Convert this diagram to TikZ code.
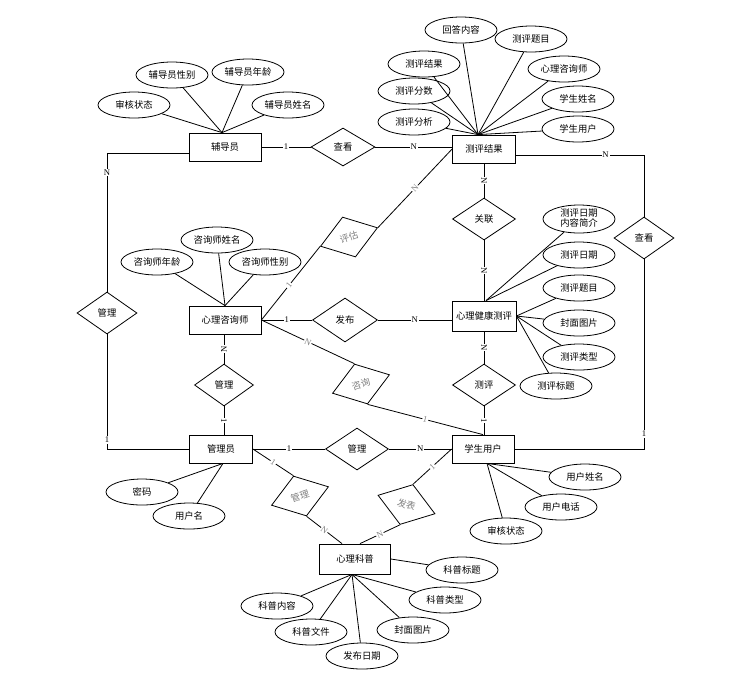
\documentclass[tikz,border=0pt]{standalone}
\usepackage{fontspec}
\setmainfont{Liberation Serif}
\newfontfamily\cjk{Noto Sans CJK SC}
\usetikzlibrary{shapes.geometric,calc}
\begin{document}
\begin{tikzpicture}[x=0.75pt,y=-0.75pt,line width=0.6pt,
  cjkf/.style={font=\cjk\fontsize{7}{9}\selectfont},
  ent/.style={draw,rectangle,inner sep=0pt,minimum height=21pt,cjkf},
  rel/.style={draw,diamond,inner sep=0pt,minimum width=47.25pt,minimum height=31.5pt,cjkf},
  rrel/.style={rel,minimum width=45pt,text=gray},
  attr/.style={draw,ellipse,inner sep=0pt,minimum width=54pt,minimum height=19.5pt,cjkf},
  lbl/.style={fill=white,inner sep=0.6pt,font=\fontsize{6.5}{7}\selectfont},
  vlbl/.style={lbl,sloped},
  slbl/.style={lbl,sloped,text=gray}]
\useasboundingbox (0,0) rectangle (730,687);
% entities
\node[ent,minimum width=54pt] (fdy) at (225,147) {辅导员};
\node[ent,minimum width=47.25pt] (cj) at (484,149) {测评结果};
\node[ent,minimum width=54pt] (zx) at (225,320) {心理咨询师};
\node[ent,minimum width=48pt,minimum height=22.5pt] (jk) at (484,316) {心理健康测评};
\node[ent,minimum width=47.25pt] (gly) at (221,449) {管理员};
\node[ent,minimum width=46.5pt] (xs) at (483,449) {学生用户};
\node[ent,minimum width=53.25pt,minimum height=22.5pt] (kp) at (355,559) {心理科普};
% relationships
\node[rel,minimum width=48pt,minimum height=28.5pt] (ck1) at (343,147) {查看};
\node[rel,minimum width=45pt] (gm1) at (107,313) {管理};
\node[rrel,rotate=18] (pg) at (349,237) {评估};
\node[rel,minimum width=48.75pt,minimum height=33pt] (fb) at (345,320) {发布};
\node[rel] (gl) at (484,219) {关联};
\node[rel,minimum width=44.25pt] (gm2) at (224,385) {管理};
\node[rrel,rotate=18] (zxr) at (361,384) {咨询};
\node[rel] (cp) at (484,385) {测评};
\node[rel] (gm3) at (357,449) {管理};
\node[rrel,rotate=18] (gm4) at (300,496) {管理};
\node[rrel,rotate=-18] (fbb) at (406.5,504.5) {发表};
\node[rel,minimum width=45pt] (ck2) at (644,238) {查看};
% helper coordinates
\coordinate (fdyt) at ($(fdy.north)+(-3,0)$);
\coordinate (fdyl) at ($(fdy.west)+(0,6)$);
\coordinate (cjt) at ($(cj.north)+(-6,0)$);
\coordinate (cjr) at ($(cj.east)+(0,6)$);
\coordinate (jkt) at ($(jk.north)+(2,0)$);
\coordinate (glyb) at ($(gly.south)+(2,0)$);
\coordinate (xsb) at ($(xs.south)+(4,0)$);
\coordinate (kpb) at ($(kp.south)+(-3,0)$);
\coordinate (kpt1) at ($(kp.north)+(-13,0)$);
\coordinate (kpt2) at ($(kp.north)+(5,0)$);
% relationship connectors
\draw (fdy.east) -- node[lbl]{1} (ck1.west);
\draw (ck1.east) -- node[lbl]{N} (ck1.east -| cj.west);
\draw (fdyl) -| node[lbl,pos=0.57]{N} (gm1.north);
\draw (gm1.south) |- node[lbl,pos=0.46]{1} (gly.west);
\draw (zx.east) -- node[slbl,pos=0.47]{1} (pg.west);
\draw (pg.east) -- node[slbl]{N} (cj.west);
\draw (zx.east) -- node[lbl]{1} (fb.west);
\draw (fb.east) -- node[lbl]{N} (fb.east -| jk.west);
\draw (cj.south) -- node[vlbl]{N} (gl.north);
\draw (gl.south) -- node[vlbl]{N} (jk.north);
\draw (gm2.north) -- node[vlbl]{N} (gm2.north |- zx.south);
\draw (gm2.south) -- node[vlbl]{1} (gm2.south |- gly.north);
\draw (zx.east) -- node[slbl]{N} (zxr.north);
\draw (zxr.south) -- node[slbl]{1} (xs.north);
\draw (jk.south) -- node[vlbl]{N} (cp.north);
\draw (cp.south) -- node[vlbl]{1} (cp.south |- xs.north);
\draw (gly.east) -- node[lbl]{1} (gm3.west);
\draw (gm3.east) -- node[lbl]{N} (xs.west);
\draw (gly.east) -- node[slbl]{1} (gm4.north);
\draw (gm4.south) -- node[slbl]{N} (kpt1);
\draw (xs.west) -- node[slbl]{1} (fbb.north);
\draw (fbb.south) -- node[slbl]{N} (kpt2);
\draw (cjr) -| node[lbl,pos=0.35]{N} (ck2.north);
\draw (ck2.south) |- node[lbl,pos=0.46]{1} (xs.east);
% attributes of 辅导员
\node[attr] (f1) at (134,105) {审核状态};
\node[attr] (f2) at (172,75) {辅导员性别};
\node[attr] (f3) at (248,72) {辅导员年龄};
\node[attr] (f4) at (288,105) {辅导员姓名};
\foreach \n in {f1,f2,f3,f4} \draw (\n) -- (fdyt);
% attributes of 测评结果
\node[attr] (c1) at (461,30) {回答内容};
\node[attr] (c2) at (531,39) {测评题目};
\node[attr] (c3) at (424,64) {测评结果};
\node[attr] (c4) at (564,69) {心理咨询师};
\node[attr] (c5) at (414,91) {测评分数};
\node[attr] (c6) at (578,99) {学生姓名};
\node[attr] (c7) at (414,122) {测评分析};
\node[attr] (c8) at (578,129) {学生用户};
\foreach \n in {c1,c2,c3,c4,c5,c6,c7,c8} \draw (\n) -- (cjt);
% attributes of 心理咨询师
\node[attr] (z1) at (217,240) {咨询师姓名};
\node[attr] (z2) at (157,262) {咨询师年龄};
\node[attr] (z3) at (265,262) {咨询师性别};
\foreach \n in {z1,z2,z3} \draw (\n) -- (zx.north);
% attributes of 心理健康测评
\node[attr,minimum height=21pt] (j1) at (579,219) {\smash{\raisebox{-0.5ex}{\begin{tabular}{@{}c@{}}测评日期\\[-1.5pt]内容简介\end{tabular}}}};
\node[attr] (j2) at (579,255) {测评日期};
\node[attr] (j3) at (579,288) {测评题目};
\node[attr] (j4) at (579,323) {封面图片};
\node[attr] (j5) at (579,357) {测评类型};
\node[attr] (j6) at (556,386) {测评标题};
\foreach \n in {j1,j2} \draw (\n) -- (jkt);
\foreach \n in {j3,j4,j5,j6} \draw (\n) -- (jk.east);
% attributes of 管理员
\node[attr] (g1) at (142,492) {密码};
\node[attr] (g2) at (189,516) {用户名};
\foreach \n in {g1,g2} \draw (\n) -- (glyb);
% attributes of 学生用户
\node[attr] (s1) at (585,477) {用户姓名};
\node[attr] (s2) at (561,507) {用户电话};
\node[attr] (s3) at (506,531) {审核状态};
\foreach \n in {s1,s2,s3} \draw (\n) -- (xsb);
% attributes of 心理科普
\node[attr] (k1) at (462,570) {科普标题};
\node[attr] (k2) at (277,606) {科普内容};
\node[attr] (k3) at (445,600) {科普类型};
\node[attr] (k4) at (311,632) {科普文件};
\node[attr] (k5) at (413,630) {封面图片};
\node[attr] (k6) at (362,656) {发布日期};
\draw (k1) -- (kp.east);
\foreach \n in {k2,k3,k4,k5,k6} \draw (\n) -- (kpb);
\end{tikzpicture}
\end{document}
